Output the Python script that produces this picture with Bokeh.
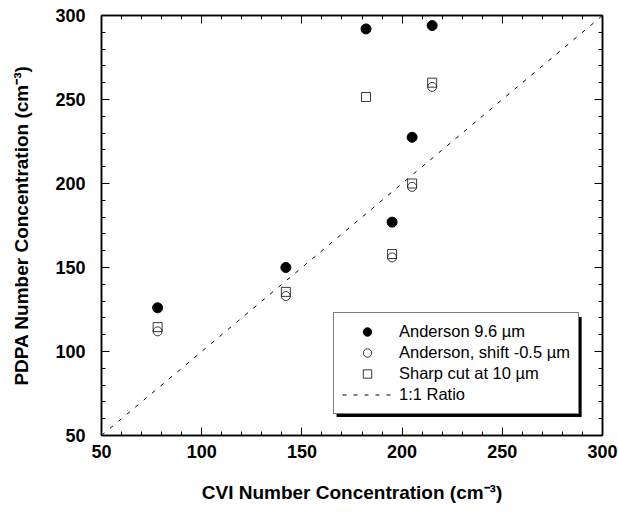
from bokeh.plotting import figure
from bokeh.models import (Legend, LegendItem, LinearAxis, Range1d, SingleIntervalTicker,
                          CustomLabelingPolicy, BoxAnnotation)
from bokeh.embed import file_html
from bokeh.resources import INLINE

# ---- data ----
cvi = [78, 142, 182, 215, 205, 195]
anderson_96 = [126, 150, 292, 294, 227.5, 177]
sharp_cut = [114.5, 135.5, 251.5, 260, 200, 158]
cvi_shift = [78, 142, 215, 205, 195]
anderson_shift = [112, 133, 257.5, 198, 156]
ratio_x = [50, 300]
ratio_y = [50, 300]

x_label = "CVI Number Concentration (cm\u207b\u00b3)"
y_label = "PDPA Number Concentration (cm\u207b\u00b3)"
labels = ["Anderson 9.6 \u00b5m", "Anderson, shift -0.5 \u00b5m", "Sharp cut at 10 \u00b5m", "1:1 Ratio"]

FONT = "Liberation Sans"

p = figure(frame_width=501, frame_height=420, output_backend="svg", toolbar_location=None,
           x_range=Range1d(50, 300), y_range=Range1d(50, 300),
           min_border_left=101, min_border_right=4, min_border_top=15, min_border_bottom=62)
p.background_fill_color = "white"
p.border_fill_color = "white"
p.outline_line_color = "black"
p.outline_line_width = 1.5
p.xgrid.visible = False
p.ygrid.visible = False

def style_axis(ax, labels_on=True):
    ax.ticker = SingleIntervalTicker(interval=50, num_minor_ticks=5)
    ax.major_tick_in = 8
    ax.major_tick_out = 0
    ax.minor_tick_in = 4
    ax.minor_tick_out = 0
    ax.major_tick_line_color = "black"
    ax.minor_tick_line_color = "black"
    ax.axis_line_color = "black"
    ax.axis_line_width = 1.5
    if labels_on:
        ax.major_label_text_font = FONT
        ax.major_label_text_font_style = "bold"
        ax.major_label_text_font_size = "18px"
        ax.major_label_text_color = "black"
        ax.axis_label_text_font = FONT
        ax.axis_label_text_font_style = "bold"
        ax.axis_label_text_font_size = "19px"
        ax.axis_label_text_color = "black"
    else:
        ax.major_label_policy = CustomLabelingPolicy(code="return []")
        ax.major_label_standoff = 0

style_axis(p.xaxis[0])
style_axis(p.yaxis[0])
p.xaxis[0].axis_label = x_label
p.yaxis[0].axis_label = y_label
p.xaxis[0].major_label_standoff = 9
p.xaxis[0].axis_label_standoff = 21
p.yaxis[0].major_label_standoff = 16
p.yaxis[0].axis_label_standoff = 20

top_ax = LinearAxis()
right_ax = LinearAxis()
style_axis(top_ax, labels_on=False)
style_axis(right_ax, labels_on=False)
p.add_layout(top_ax, "above")
p.add_layout(right_ax, "right")

# ---- glyphs ----
r_line = p.line(ratio_x, ratio_y, line_color="black", line_width=1, line_dash="4 7")
r_sq = p.scatter(cvi, sharp_cut, marker="square", size=9, fill_color=None,
                 line_color="#222222", line_width=0.9)
r_oc = p.scatter(cvi_shift, anderson_shift, marker="circle", size=9, fill_color=None,
                 line_color="#222222", line_width=0.9)
r_fc = p.scatter(cvi, anderson_96, marker="circle", size=10, fill_color="black",
                 line_color="black")

items = [LegendItem(label=labels[0], renderers=[r_fc]),
         LegendItem(label=labels[1], renderers=[r_oc]),
         LegendItem(label=labels[2], renderers=[r_sq]),
         LegendItem(label=labels[3], renderers=[r_line])]

# drop shadow behind the legend box
shadow = BoxAnnotation(left=167.3, right=289.6, bottom=61.0, top=120.5,
                       fill_color="black", fill_alpha=1.0, line_color=None)
p.add_layout(shadow)

legend = Legend(items=items, location=(232, 21), padding=8, spacing=0, label_height=21,
                glyph_height=21, glyph_width=50, label_standoff=7, margin=0,
                label_text_font=FONT, label_text_font_size="16.5px",
                label_text_color="black", border_line_color="black",
                border_line_width=1, background_fill_alpha=1.0,
                background_fill_color="white")
p.add_layout(legend, "center")

open("out.html", "w").write(file_html(p, INLINE))
